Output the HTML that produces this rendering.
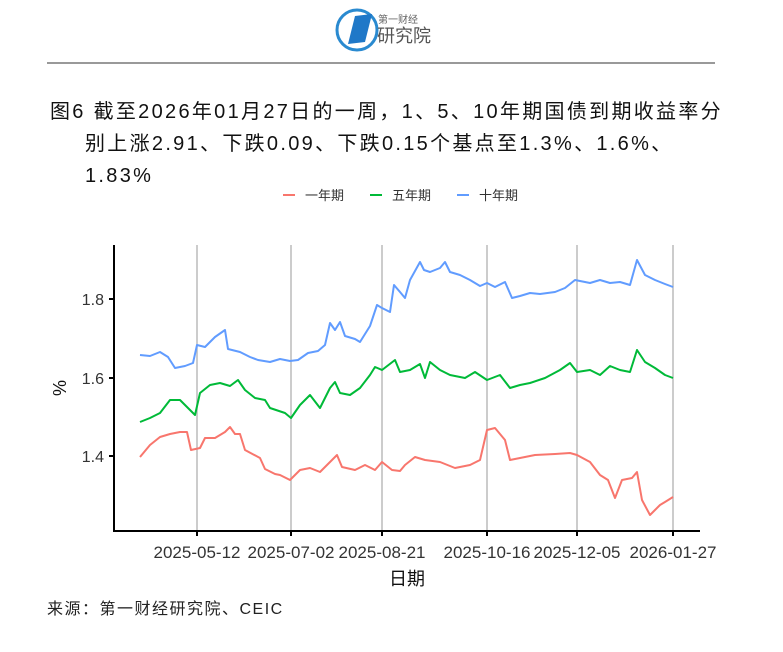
<!DOCTYPE html>
<html><head><meta charset="utf-8"><style>
body{margin:0;background:#fff;width:783px;height:647px;overflow:hidden;font-family:"Liberation Sans","Noto Sans CJK SC",sans-serif}
</style></head><body>
<svg width="783" height="647" xmlns="http://www.w3.org/2000/svg" font-family="Liberation Sans, Noto Sans CJK SC, sans-serif">
<circle cx="357" cy="30" r="20" fill="none" stroke="#2a8ad0" stroke-width="3"/>
<polygon points="348,44 355,16 372,14 365,42" fill="#1f78c8"/>
<text x="378" y="23" font-size="10" fill="#666">第一财经</text>
<text x="377" y="42" font-size="18" fill="#555">研究院</text>
<line x1="47" y1="63" x2="715" y2="63" stroke="#333" stroke-width="1"/>
<text font-size="20" fill="#111" letter-spacing="2.3"><tspan x="50" y="118">图6  截至2026年01月27日的一周，1、5、10年期国债到期收益率分</tspan><tspan x="85" y="150">别上涨2.91、下跌0.09、下跌0.15个基点至1.3%、1.6%、</tspan><tspan x="85" y="182">1.83%</tspan></text>
<g font-size="13" fill="#333">
<line x1="283" y1="195" x2="295" y2="195" stroke="#f8766d" stroke-width="2"/><text x="305" y="200">一年期</text>
<line x1="370" y1="195" x2="382" y2="195" stroke="#00ba38" stroke-width="2"/><text x="392" y="200">五年期</text>
<line x1="457" y1="195" x2="469" y2="195" stroke="#619cff" stroke-width="2"/><text x="479" y="200">十年期</text>
</g>
<g stroke="#bbb" stroke-width="1.5">
<line x1="197" y1="245" x2="197" y2="531"/><line x1="291" y1="245" x2="291" y2="531"/><line x1="382" y1="245" x2="382" y2="531"/><line x1="487" y1="245" x2="487" y2="531"/><line x1="577" y1="245" x2="577" y2="531"/><line x1="673" y1="245" x2="673" y2="531"/>
</g>
<g stroke="#000" stroke-width="2" fill="none">
<polyline points="114,245 114,531 700,531"/>
<line x1="109" y1="299" x2="114" y2="299"/><line x1="109" y1="378" x2="114" y2="378"/><line x1="109" y1="456" x2="114" y2="456"/>
<line x1="197" y1="531" x2="197" y2="536"/><line x1="291" y1="531" x2="291" y2="536"/><line x1="382" y1="531" x2="382" y2="536"/><line x1="487" y1="531" x2="487" y2="536"/><line x1="577" y1="531" x2="577" y2="536"/><line x1="673" y1="531" x2="673" y2="536"/>
</g>
<g font-size="16" fill="#333" text-anchor="end">
<text x="104" y="305">1.8</text><text x="104" y="384">1.6</text><text x="104" y="462">1.4</text>
</g>
<g font-size="17" fill="#333" text-anchor="middle">
<text x="197" y="558">2025-05-12</text><text x="291" y="558">2025-07-02</text><text x="382" y="558">2025-08-21</text><text x="487" y="558">2025-10-16</text><text x="577" y="558">2025-12-05</text><text x="673" y="558">2026-01-27</text>
<text x="407" y="585" font-size="18" fill="#111">日期</text>
</g>
<text x="66" y="388" font-size="18" fill="#111" text-anchor="middle" transform="rotate(-90 66 388)">%</text>
<g fill="none" stroke-width="2" stroke-linejoin="round">
<polyline stroke="#619cff" points="140,355 150,356 160,352 168,357 175,368 185,366 193,363 197,345 205,347 215,337 225,330 228,349 240,352 250,357 258,360 270,362 280,359 290,361 298,360 308,353 318,351 325,345 330,323 335,330 340,322 345,336 355,339 360,342 370,326 377,305 382,308 390,312 394,285 400,292 405,298 410,280 420,262 424,270 430,272 440,268 445,262 450,272 460,275 470,280 480,286 487,283 495,287 505,282 512,298 520,296 530,293 540,294 555,292 565,288 575,280 590,283 600,280 610,283 620,282 630,285 637,260 645,275 655,280 665,284 673,287"/>
<polyline stroke="#00ba38" points="140,422 150,418 160,413 170,400 180,400 190,410 195,415 200,393 210,385 220,383 230,386 238,380 245,390 255,398 265,400 270,408 285,413 291,418 300,405 310,395 320,408 330,388 335,382 340,393 350,395 360,388 370,375 375,367 382,370 395,360 400,372 410,370 420,364 425,378 430,362 440,370 450,375 465,378 475,372 487,380 500,375 510,388 520,385 530,383 545,378 560,370 570,363 577,372 590,370 600,375 610,366 620,370 630,372 637,350 645,362 655,368 665,375 673,378"/>
<polyline stroke="#f8766d" points="140,457 150,445 160,437 170,434 180,432 187,432 191,450 200,448 205,438 215,438 225,432 230,427 235,434 240,434 245,450 260,458 265,469 275,474 280,475 290,480 300,470 310,468 320,472 330,462 337,455 342,467 355,470 365,465 375,470 382,462 392,470 400,471 405,465 415,457 425,460 440,462 455,468 470,465 480,460 487,430 495,428 505,440 510,460 520,458 535,455 555,454 570,453 577,455 590,462 600,475 608,480 615,498 622,480 632,478 637,472 642,500 650,515 655,510 660,505 665,502 673,497"/>
</g>
<text x="47" y="614" font-size="16" fill="#222" letter-spacing="1.5">来源：第一财经研究院、CEIC</text>
</svg>
</body></html>
